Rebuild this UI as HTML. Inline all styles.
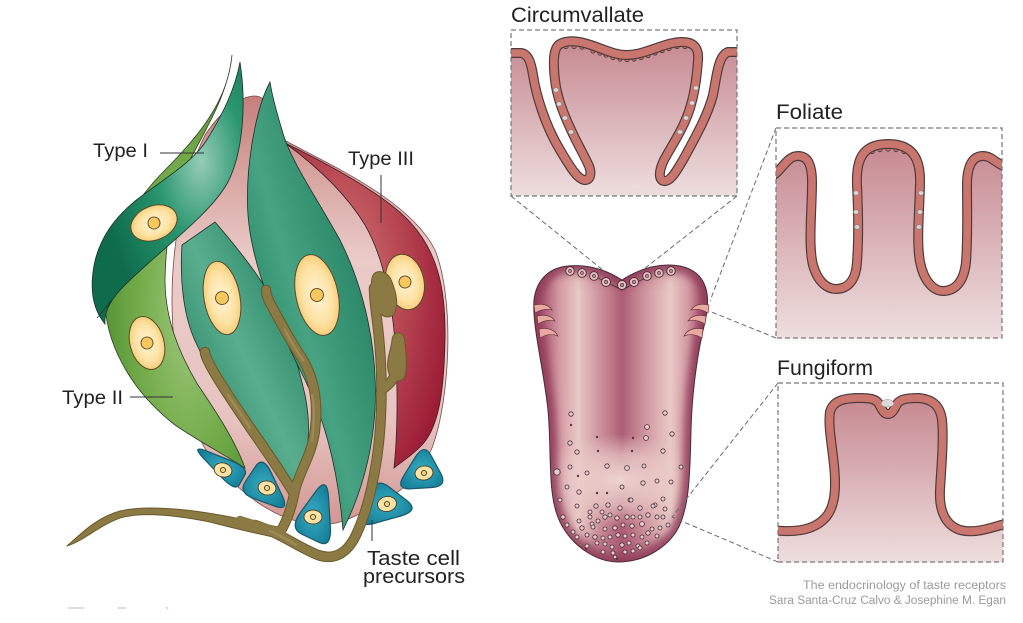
<!DOCTYPE html>
<html><head><meta charset="utf-8"><style>
html,body{margin:0;padding:0;background:#fff;}
svg{display:block;}
text{font-family:"Liberation Sans",sans-serif;}
</style></head><body>
<svg width="1023" height="623" viewBox="0 0 1023 623" xmlns="http://www.w3.org/2000/svg">
<defs>
 <linearGradient id="tis1" x1="0" y1="38" x2="0" y2="196" gradientUnits="userSpaceOnUse"><stop offset="0" stop-color="#c5878f"/><stop offset="1" stop-color="#eedede"/></linearGradient>
 <linearGradient id="tis2" x1="0" y1="140" x2="0" y2="338" gradientUnits="userSpaceOnUse"><stop offset="0" stop-color="#c5878f"/><stop offset="1" stop-color="#eedede"/></linearGradient>
 <linearGradient id="tis3" x1="0" y1="395" x2="0" y2="562" gradientUnits="userSpaceOnUse"><stop offset="0" stop-color="#c5878f"/><stop offset="1" stop-color="#eedede"/></linearGradient>
 <linearGradient id="tg" x1="533" y1="0" x2="709" y2="0" gradientUnits="userSpaceOnUse">
  <stop offset="0" stop-color="#984462"/><stop offset="0.07" stop-color="#b0627a"/><stop offset="0.15" stop-color="#d39aa3"/>
  <stop offset="0.256" stop-color="#e9c9c6"/><stop offset="0.37" stop-color="#d097a0"/><stop offset="0.506" stop-color="#ad5d74"/>
  <stop offset="0.64" stop-color="#d097a0"/><stop offset="0.78" stop-color="#e9c9c6"/><stop offset="0.88" stop-color="#d39aa3"/>
  <stop offset="0.95" stop-color="#b0627a"/><stop offset="1" stop-color="#984462"/></linearGradient>
 <radialGradient id="tlight" cx="0.5" cy="0.5" r="0.5"><stop offset="0" stop-color="#eed4d0" stop-opacity="1"/><stop offset="0.55" stop-color="#ebcdca" stop-opacity="0.7"/><stop offset="1" stop-color="#ebcdca" stop-opacity="0"/></radialGradient>
 <clipPath id="tclip"><path d="M 622 280 C 608 271 590 264 568 266 C 546 268 536 283 534 300 C 532 325 543 365 548 410 C 552 455 547 495 560 522 C 573 548 598 562 618 562 C 642 562 664 550 676 532 C 690 510 690 470 691 430 C 692 390 698 350 705 322 C 711 296 708 272 680 266 C 656 262 636 271 622 280 Z"/></clipPath>
 <filter id="blur4" x="-20%" y="-20%" width="140%" height="140%"><feGaussianBlur stdDeviation="4"/></filter>
 <filter id="blur8" x="-30%" y="-30%" width="160%" height="160%"><feGaussianBlur stdDeviation="8"/></filter>
 <clipPath id="b1"><rect x="511" y="30" width="226" height="166"/></clipPath>
 <clipPath id="b2"><rect x="776" y="128" width="226" height="210"/></clipPath>
 <clipPath id="b3"><rect x="778" y="383" width="225" height="179"/></clipPath>

 <linearGradient id="pink" x1="0" y1="96" x2="0" y2="525" gradientUnits="userSpaceOnUse">
  <stop offset="0" stop-color="#c57f7b"/><stop offset="0.17" stop-color="#d6a29e"/><stop offset="0.38" stop-color="#eacbc8"/>
  <stop offset="0.75" stop-color="#e8c4c1"/><stop offset="1" stop-color="#d29794"/></linearGradient>
 <radialGradient id="red" cx="0.35" cy="0.45" r="0.7"><stop offset="0" stop-color="#d18680"/><stop offset="0.45" stop-color="#bd5159"/><stop offset="1" stop-color="#9c1c36"/></radialGradient>
 <radialGradient id="lg" cx="0.6" cy="0.62" r="0.6"><stop offset="0" stop-color="#9fc97c"/><stop offset="0.6" stop-color="#73ab4a"/><stop offset="1" stop-color="#579536"/></radialGradient>
 <linearGradient id="dgB" x1="0" y1="1" x2="1" y2="0"><stop offset="0" stop-color="#0e6f4f"/><stop offset="0.5" stop-color="#5aae8f"/><stop offset="1" stop-color="#0f7150"/></linearGradient>
 <linearGradient id="dgC" x1="0" y1="1" x2="1" y2="0"><stop offset="0" stop-color="#0e6f4f"/><stop offset="0.45" stop-color="#47a382"/><stop offset="1" stop-color="#0d6c4d"/></linearGradient>
 <radialGradient id="dgI" cx="0.72" cy="0.38" r="0.65"><stop offset="0" stop-color="#95cdb6"/><stop offset="0.45" stop-color="#2a9670"/><stop offset="1" stop-color="#0e6c4c"/></radialGradient>
 <radialGradient id="nuc" cx="0.5" cy="0.5" r="0.5"><stop offset="0" stop-color="#fff4d8"/><stop offset="0.7" stop-color="#fde2a2"/><stop offset="1" stop-color="#f7cf7e"/></radialGradient>
 <radialGradient id="teal" cx="0.5" cy="0.5" r="0.6"><stop offset="0" stop-color="#38abc1"/><stop offset="1" stop-color="#137e97"/></radialGradient>
</defs>

<!-- ============ TASTE BUD ============ -->
<path d="M 205 135 C 222 110 240 96 255 96 C 268 96 276 115 284 140 C 330 165 410 200 435 250 C 455 300 450 400 432 448 C 420 475 400 495 375 505 C 350 520 330 530 300 522 C 270 515 245 495 220 470 C 190 435 172 370 172 300 C 172 240 185 175 205 135 Z" fill="url(#pink)" stroke="#7a4a48" stroke-width="0.8"/>
<path d="M 285 143 C 330 165 385 195 410 222 C 438 252 446 290 445 340 C 444 395 438 430 420 447 C 410 457 400 463 394 468 C 397 440 398 400 396 360 C 394 310 385 260 365 225 C 345 192 315 165 285 143 Z" fill="url(#red)" stroke="#3a2025" stroke-width="0.8"/>
<g transform="translate(405,282) rotate(-12)"><ellipse rx="19" ry="28" fill="url(#nuc)" stroke="#5b4a2a" stroke-width="1"/><circle r="6" fill="#f7c85e" stroke="#6a5530"/></g>
<path d="M 232 55 C 228 100 200 135 165 170 C 135 200 110 240 105 290 C 102 340 130 390 175 425 C 200 442 225 455 245 468 C 235 440 215 410 198 385 C 180 355 165 320 165 280 C 166 230 175 190 190 160 C 205 130 228 95 232 55 Z" fill="url(#lg)" stroke="#2e3b25" stroke-width="0.8"/>
<g transform="translate(147,343) rotate(-15)"><ellipse rx="17" ry="27" fill="url(#nuc)" stroke="#5b4a2a" stroke-width="1"/><circle r="6" fill="#f7c85e" stroke="#6a5530"/></g>
<path d="M 182 245 C 180 275 182 315 197 345 C 215 385 245 420 268 452 C 283 472 292 482 297 492 C 308 462 312 428 305 395 C 297 360 285 320 270 295 C 255 270 235 245 215 222 Z" fill="url(#dgB)" stroke="#1c3027" stroke-width="0.8"/>
<g transform="translate(222,298) rotate(-10)"><ellipse rx="18" ry="37" fill="url(#nuc)" stroke="#5b4a2a" stroke-width="1"/><circle r="6.5" fill="#f7c85e" stroke="#6a5530"/></g>
<path d="M 270 82 C 255 110 245 170 248 215 C 252 270 280 330 305 380 C 325 420 338 470 343 530 C 358 500 372 460 375 410 C 378 350 365 290 340 240 C 315 195 290 160 282 130 C 276 110 272 95 270 82 Z" fill="url(#dgC)" stroke="#1c3027" stroke-width="0.8"/>
<g transform="translate(317,295) rotate(-12)"><ellipse rx="21" ry="41" fill="url(#nuc)" stroke="#5b4a2a" stroke-width="1"/><circle r="6.5" fill="#f7c85e" stroke="#6a5530"/></g>
<path d="M 240 62 C 246 100 244 150 228 182 C 210 215 160 250 125 285 C 112 298 104 310 105 324 C 95 312 90 295 93 272 C 97 240 115 215 143 195 C 170 175 195 160 208 138 C 222 115 235 90 240 62 Z" fill="url(#dgI)" stroke="#1c3027" stroke-width="0.8"/>
<path d="M 97 318 L 112 300" stroke="#1c3027" stroke-width="0.7" fill="none"/>
<g transform="translate(154,223) rotate(-22)"><ellipse rx="24" ry="17" fill="url(#nuc)" stroke="#5b4a2a" stroke-width="1"/><circle r="6" fill="#f7c85e" stroke="#6a5530"/></g>

<!-- precursor cells -->
<g fill="url(#teal)" stroke="#175a6b" stroke-width="1.1">
 <path transform="translate(224,468) scale(1.13) translate(-224,-468)" d="M 209.6 453.3 L 230.4 461.7 Q 246 468 242.4 474.3 L 237.6 482.7 Q 234 489 222 476.4 L 206 459.6 Q 194 447 209.6 453.3 Z"/>
 <path transform="translate(264,487) scale(1.13) translate(-264,-487)" d="M 247.6 482.1 L 256.4 468.9 Q 263 459 270.2 474 L 279.8 494 Q 287 509 273.2 503.9 L 254.8 497.1 Q 241 492 247.6 482.1 Z"/>
 <path transform="translate(316,517) scale(1.12) translate(-316,-517)" d="M 302.2 512.9 L 315.8 494.1 Q 326 480 327.2 499.5 L 328.8 525.5 Q 330 545 318.6 539.6 L 303.4 532.4 Q 292 527 302.2 512.9 Z"/>
 <path transform="translate(384,505) scale(1.12) translate(-384,-505)" d="M 388.7 489 L 404.3 501 Q 416 510 398.9 514.8 L 376.1 521.2 Q 359 526 364.4 512.2 L 371.6 493.8 Q 377 480 388.7 489 Z"/>
 <path transform="translate(422,473) scale(1.12) translate(-422,-473)" d="M 430.3 457.7 L 438.7 473.3 Q 445 485 430.9 485.9 L 412.1 487.1 Q 398 488 405.8 475.4 L 416.2 458.6 Q 424 446 430.3 457.7 Z"/>
</g>
<g stroke="#4b3d22" stroke-width="0.9">
 <ellipse cx="223" cy="470" rx="9" ry="7" fill="#fde3a5" transform="rotate(15 223 470)"/><circle cx="223" cy="470" r="2.6" fill="#f7cf7e"/>
 <ellipse cx="267" cy="488" rx="9" ry="7" fill="#fde3a5" transform="rotate(10 267 488)"/><circle cx="267" cy="488" r="2.6" fill="#f7cf7e"/>
 <ellipse cx="313" cy="517" rx="9" ry="7" fill="#fde3a5"/><circle cx="313" cy="517" r="2.6" fill="#f7cf7e"/>
 <ellipse cx="387" cy="504" rx="9.5" ry="7.5" fill="#fde3a5" transform="rotate(-10 387 504)"/><circle cx="387" cy="504" r="2.6" fill="#f7cf7e"/>
 <ellipse cx="424" cy="473" rx="9" ry="7" fill="#fde3a5" transform="rotate(-10 424 473)"/><circle cx="424" cy="473" r="2.6" fill="#f7cf7e"/>
</g>

<!-- nerve fibers -->
<g fill="none" stroke-linecap="round" stroke-linejoin="round">
 <g stroke="#6a5a2c" stroke-width="10.5">
  <path d="M 255 525 C 280 533 298 547 318 555 C 335 561 348 552 356 535 C 368 510 377 470 380 430 C 383 390 381 350 377 320 C 375 305 374 295 374 288"/>
  <path d="M 279 534 C 288 520 292 505 295 490 C 300 470 312 455 315 430 C 318 405 315 380 303 360 C 290 340 278 318 270 303 C 267 297 266 293 266 290"/>
  <path d="M 293 492 C 280 470 262 445 245 420 C 230 398 218 380 210 365 C 207 359 205 355 205 352"/>
  <path d="M 381 390 C 388 386 394 380 397 370"/>
 </g>
 <path d="M 67 546 C 80 535 95 518 120 511 C 150 504 200 510 250 521 L 278 527 L 282 539 C 260 534 240 530 210 522 C 170 514 140 512 120 518 C 100 525 85 540 67 546 Z" fill="#8c7a44" stroke="#6a5a2c" stroke-width="1"/>
 <path d="M 372 278 C 374 268 388 270 392 282 C 396 292 399 305 394 314 C 388 320 380 316 376 308 C 372 300 370 290 372 278 Z" fill="#8c7a44" stroke="#6a5a2c" stroke-width="1"/>
 <path d="M 392 340 C 393 330 404 330 405 342 C 406 355 408 370 404 378 C 398 384 390 380 388 370 C 386 360 391 350 392 340 Z" fill="#8c7a44" stroke="#6a5a2c" stroke-width="1"/>
 <g stroke="#8c7a44" stroke-width="8.5">
  <path d="M 255 525 C 280 533 298 547 318 555 C 335 561 348 552 356 535 C 368 510 377 470 380 430 C 383 390 381 350 377 320 C 375 305 374 295 374 288"/>
  <path d="M 279 534 C 288 520 292 505 295 490 C 300 470 312 455 315 430 C 318 405 315 380 303 360 C 290 340 278 318 270 303 C 267 297 266 293 266 290"/>
  <path d="M 293 492 C 280 470 262 445 245 420 C 230 398 218 380 210 365 C 207 359 205 355 205 352"/>
  <path d="M 381 390 C 388 386 394 380 397 370"/>
  <path d="M 240 520 L 282 533"/>
 </g>
 <g stroke="#a9996a" stroke-width="2.5" opacity="0.55">
  <path d="M 303 360 C 296 350 290 340 285 330"/>
  <path d="M 312 440 C 314 425 315 410 312 395"/>
  <path d="M 250 428 C 242 416 235 405 228 395"/>
  <path d="M 270 531 C 280 535 288 540 296 545"/>
 </g>
</g>

<g stroke="#333" stroke-width="1">
 <line x1="160" y1="153" x2="204" y2="153"/>
 <line x1="381" y1="175" x2="381" y2="223"/>
 <line x1="130" y1="397" x2="173" y2="397"/>
 <line x1="372" y1="520" x2="372" y2="541"/>
</g>
<g fill="#222" font-size="19">
 <text x="93" y="157" textLength="55" lengthAdjust="spacingAndGlyphs">Type I</text>
 <text x="348" y="165" textLength="66" lengthAdjust="spacingAndGlyphs">Type III</text>
 <text x="62" y="404" textLength="61" lengthAdjust="spacingAndGlyphs">Type II</text>
 <text x="367" y="565" font-size="20.5" textLength="93" lengthAdjust="spacingAndGlyphs">Taste cell</text>
 <text x="363" y="583" font-size="20.5" textLength="102" lengthAdjust="spacingAndGlyphs">precursors</text>
</g>
<g stroke="#d4d4d4" stroke-width="1.5">
 <line x1="68" y1="608" x2="84" y2="608"/><line x1="118" y1="608" x2="126" y2="608"/><line x1="166" y1="607" x2="168" y2="609"/>
</g>

<!-- ============ TONGUE ============ -->
<path d="M 622 280 C 608 271 590 264 568 266 C 546 268 536 283 534 300 C 532 325 543 365 548 410 C 552 455 547 495 560 522 C 573 548 598 562 618 562 C 642 562 664 550 676 532 C 690 510 690 470 691 430 C 692 390 698 350 705 322 C 711 296 708 272 680 266 C 656 262 636 271 622 280 Z" fill="url(#tg)"/>
<g clip-path="url(#tclip)">
 <ellipse cx="620" cy="480" rx="82" ry="46" fill="url(#tlight)"/>
 <ellipse cx="620" cy="582" rx="95" ry="45" fill="#a65470" opacity="0.5" filter="url(#blur8)"/>
 <ellipse cx="622" cy="262" rx="60" ry="18" fill="#a65470" opacity="0.4" filter="url(#blur8)"/>
 <path d="M 622 280 C 608 271 590 264 568 266 C 546 268 536 283 534 300 C 532 325 543 365 548 410 C 552 455 547 495 560 522 C 573 548 598 562 618 562 C 642 562 664 550 676 532 C 690 510 690 470 691 430 C 692 390 698 350 705 322 C 711 296 708 272 680 266 C 656 262 636 271 622 280 Z" fill="none" stroke="#8e3a58" stroke-width="14" opacity="0.85" filter="url(#blur4)"/>
</g>
<path d="M 622 280 C 608 271 590 264 568 266 C 546 268 536 283 534 300 C 532 325 543 365 548 410 C 552 455 547 495 560 522 C 573 548 598 562 618 562 C 642 562 664 550 676 532 C 690 510 690 470 691 430 C 692 390 698 350 705 322 C 711 296 708 272 680 266 C 656 262 636 271 622 280 Z" fill="none" stroke="#4a2c38" stroke-width="1"/>
<g fill="#eaa9a0" stroke="#6a3a40" stroke-width="0.7">
 <path d="M 534 305 C 542 303 549 305 552 310 C 546 308 540 310 535 313 Z"/>
 <path d="M 537 316 C 545 314 552 316 555 321 C 549 319 543 321 538 324 Z"/>
 <path d="M 539 329 C 548 327 555 330 558 336 C 551 333 545 335 540 338 Z"/>
 <path d="M 709 305 C 701 303 694 305 691 310 C 697 308 703 310 708 313 Z"/>
 <path d="M 706 316 C 698 314 691 316 688 321 C 694 319 700 321 705 324 Z"/>
 <path d="M 703 329 C 694 327 687 330 684 336 C 691 333 697 335 702 338 Z"/>
</g>
<path d="M 596 277 L 622 290 L 647 277" fill="none" stroke="#4a2c38" stroke-width="0.8"/>
<g fill="#e4c2c2" stroke="#4a2c38" stroke-width="0.9">
 <circle cx="570" cy="271" r="4.3"/><circle cx="582" cy="273" r="4.3"/><circle cx="594" cy="276" r="4.3"/><circle cx="606" cy="282" r="4.5"/><circle cx="622" cy="285" r="4.5"/><circle cx="634" cy="282" r="4.5"/><circle cx="647" cy="276" r="4.3"/><circle cx="659" cy="273" r="4.3"/><circle cx="671" cy="271" r="4.3"/>
</g>
<g fill="#b98a8e" stroke="#4a2c38" stroke-width="0.6">
 <circle cx="570" cy="271" r="1.6"/><circle cx="582" cy="273" r="1.6"/><circle cx="594" cy="276" r="1.6"/><circle cx="606" cy="282" r="1.7"/><circle cx="622" cy="285" r="1.7"/><circle cx="634" cy="282" r="1.7"/><circle cx="647" cy="276" r="1.6"/><circle cx="659" cy="273" r="1.6"/><circle cx="671" cy="271" r="1.6"/>
</g>
<g fill="#e8cccb" stroke="#4a3038" stroke-width="0.8">
 <circle cx="571" cy="414" r="2.2"/><circle cx="665" cy="413" r="2.2"/><circle cx="647" cy="427" r="2.4"/><circle cx="672" cy="434" r="2.2"/><circle cx="646" cy="438" r="2.4"/><circle cx="570" cy="443" r="2.2"/><circle cx="577" cy="452" r="2.2"/><circle cx="663" cy="451" r="2.2"/><circle cx="557" cy="472" r="3.2"/><circle cx="570" cy="467" r="2"/><circle cx="587" cy="473" r="2"/><circle cx="607" cy="466" r="2.2"/><circle cx="627" cy="468" r="2.4"/><circle cx="644" cy="466" r="2"/><circle cx="681" cy="467" r="2"/><circle cx="567" cy="487" r="2"/><circle cx="579" cy="492" r="2.2"/><circle cx="622" cy="487" r="2"/><circle cx="643" cy="483" r="2.2"/><circle cx="657" cy="481" r="2"/><circle cx="671" cy="482" r="2"/><circle cx="560" cy="500" r="2"/><circle cx="577" cy="506" r="2"/><circle cx="596" cy="506" r="2.2"/><circle cx="608" cy="505" r="2.2"/><circle cx="630" cy="500" r="2"/><circle cx="640" cy="508" r="2.2"/><circle cx="655" cy="505" r="2"/><circle cx="663" cy="499" r="2"/><circle cx="665" cy="509" r="2"/>
 <circle cx="563" cy="517" r="2.2"/><circle cx="579" cy="521" r="2"/><circle cx="590" cy="517" r="2"/><circle cx="592" cy="524" r="2"/><circle cx="598" cy="521" r="2"/><circle cx="605" cy="517" r="2.2"/><circle cx="610" cy="515" r="2"/><circle cx="617" cy="518" r="2.2"/><circle cx="627" cy="517" r="2.2"/><circle cx="633" cy="517" r="2"/><circle cx="640" cy="517" r="2"/><circle cx="648" cy="515" r="2.2"/><circle cx="657" cy="517" r="2"/><circle cx="663" cy="517" r="2"/>
 <circle cx="567" cy="525" r="2"/><circle cx="573" cy="532" r="2"/><circle cx="582" cy="528" r="2.2"/><circle cx="593" cy="527" r="2"/><circle cx="605" cy="529" r="2"/><circle cx="615" cy="528" r="2.2"/><circle cx="623" cy="525" r="2"/><circle cx="632" cy="526" r="2.2"/><circle cx="642" cy="524" r="2.4"/><circle cx="652" cy="529" r="2"/><circle cx="660" cy="528" r="2"/><circle cx="668" cy="525" r="2"/>
 <circle cx="577" cy="537" r="2"/><circle cx="587" cy="535" r="2"/><circle cx="595" cy="537" r="2.2"/><circle cx="603" cy="538" r="2"/><circle cx="610" cy="537" r="2"/><circle cx="618" cy="535" r="2.2"/><circle cx="625" cy="536" r="2"/><circle cx="633" cy="535" r="2"/><circle cx="642" cy="537" r="2"/><circle cx="648" cy="533" r="2.2"/><circle cx="657" cy="536" r="2"/>
 <circle cx="587" cy="546" r="2"/><circle cx="597" cy="543" r="2"/><circle cx="605" cy="544" r="2"/><circle cx="612" cy="547" r="2"/><circle cx="622" cy="545" r="2.2"/><circle cx="629" cy="543" r="2"/><circle cx="638" cy="546" r="2"/><circle cx="647" cy="543" r="2"/>
 <circle cx="603" cy="552" r="2"/><circle cx="613" cy="553" r="2"/><circle cx="625" cy="552" r="2"/><circle cx="633" cy="551" r="2"/><circle cx="640" cy="548" r="2"/><circle cx="615" cy="557" r="1.8"/>
 <circle cx="590" cy="512" r="2"/><circle cx="602" cy="512" r="2"/><circle cx="620" cy="508" r="2.2"/><circle cx="631" cy="500" r="2"/><circle cx="653" cy="506" r="2"/>
</g>
<g fill="#5a3a44">
 <circle cx="571" cy="425" r="1.2"/><circle cx="597" cy="437" r="1.2"/><circle cx="633" cy="438" r="1.2"/><circle cx="598" cy="451" r="1.2"/><circle cx="632" cy="451" r="1.2"/><circle cx="578" cy="476" r="1.2"/><circle cx="597" cy="493" r="1.2"/><circle cx="607" cy="493" r="1.2"/><circle cx="586" cy="549" r="1.1"/><circle cx="617" cy="559" r="1.1"/>
</g>

<!-- ============ DASHED CONNECTORS ============ -->
<g stroke="#6a6a6a" stroke-width="1" stroke-dasharray="5 3" fill="none">
 <line x1="511" y1="196" x2="604" y2="271"/>
 <line x1="737" y1="196" x2="644" y2="269"/>
 <line x1="776" y1="128" x2="710" y2="301"/>
 <line x1="776" y1="338" x2="709" y2="311"/>
 <line x1="778" y1="383" x2="672" y2="517"/>
 <line x1="778" y1="562" x2="672" y2="517"/>
</g>

<!-- ============ CIRCUMVALLATE ============ -->
<g clip-path="url(#b1)">
 <rect x="511" y="30" width="226" height="166" fill="url(#tis1)"/>
 <path d="M 505 53 L 520 53 C 528 53 531 62 533 75 C 536 95 545 125 560 150 C 568 163 576 178 584 180 C 590 181 592 174 589 166 C 584 155 578 145 572 132 C 564 115 557 98 555 80 C 553 62 553 48 560 44 C 567 40 576 41 584 43 C 600 47 612 55 627 55 C 645 55 665 42 682 42 C 694 42 699 48 698 60 C 697 75 695 92 690 108 C 684 128 672 145 664 160 C 659 170 658 180 664 181 C 670 182 676 172 683 160 C 695 138 708 115 713 95 C 717 75 718 56 728 52 L 742 52 L 742 25 L 505 25 Z" fill="#fff"/>
 <g fill="#c9766e" stroke="#4f3b3b" stroke-width="0.8">
  <circle cx="566" cy="46.5" r="2.2"/><circle cx="574" cy="46.5" r="2.2"/><circle cx="582" cy="47" r="2.2"/><circle cx="593" cy="51" r="2.2"/><circle cx="600" cy="53" r="2.2"/><circle cx="606" cy="55" r="2.2"/><circle cx="613" cy="57.5" r="2.2"/><circle cx="620" cy="59" r="2.2"/><circle cx="627" cy="59.5" r="2.2"/><circle cx="634" cy="59" r="2.2"/><circle cx="641" cy="57.5" r="2.2"/><circle cx="648" cy="55.5" r="2.2"/><circle cx="655" cy="53" r="2.2"/><circle cx="662" cy="50.5" r="2.2"/><circle cx="669" cy="48.5" r="2.2"/><circle cx="677" cy="46.5" r="2.2"/><circle cx="685" cy="46.5" r="2.2"/>
 </g>
 <path d="M 505 53 L 520 53 C 528 53 531 62 533 75 C 536 95 545 125 560 150 C 568 163 576 178 584 180 C 590 181 592 174 589 166 C 584 155 578 145 572 132 C 564 115 557 98 555 80 C 553 62 553 48 560 44 C 567 40 576 41 584 43 C 600 47 612 55 627 55 C 645 55 665 42 682 42 C 694 42 699 48 698 60 C 697 75 695 92 690 108 C 684 128 672 145 664 160 C 659 170 658 180 664 181 C 670 182 676 172 683 160 C 695 138 708 115 713 95 C 717 75 718 56 728 52 L 742 52" fill="none" stroke="#4f3b3b" stroke-width="10"/>
 <path d="M 505 53 L 520 53 C 528 53 531 62 533 75 C 536 95 545 125 560 150 C 568 163 576 178 584 180 C 590 181 592 174 589 166 C 584 155 578 145 572 132 C 564 115 557 98 555 80 C 553 62 553 48 560 44 C 567 40 576 41 584 43 C 600 47 612 55 627 55 C 645 55 665 42 682 42 C 694 42 699 48 698 60 C 697 75 695 92 690 108 C 684 128 672 145 664 160 C 659 170 658 180 664 181 C 670 182 676 172 683 160 C 695 138 708 115 713 95 C 717 75 718 56 728 52 L 742 52" fill="none" stroke="#c9766e" stroke-width="7.6"/>
 <g fill="#dcd6d6" stroke="#777" stroke-width="0.5">
  <ellipse cx="556" cy="90" rx="2.6" ry="2.2"/><ellipse cx="559" cy="104" rx="2.6" ry="2.2"/><ellipse cx="565" cy="118" rx="2.6" ry="2.2"/><ellipse cx="571" cy="132" rx="2.6" ry="2.2"/>
  <ellipse cx="696" cy="88" rx="2.6" ry="2.2"/><ellipse cx="692" cy="103" rx="2.6" ry="2.2"/><ellipse cx="686" cy="118" rx="2.6" ry="2.2"/><ellipse cx="680" cy="132" rx="2.6" ry="2.2"/>
 </g>
</g>
<rect x="511" y="30" width="226" height="166" fill="none" stroke="#777" stroke-width="1.2" stroke-dasharray="5 3"/>

<!-- ============ FOLIATE ============ -->
<g clip-path="url(#b2)">
 <rect x="776" y="128" width="226" height="210" fill="url(#tis2)"/>
 <path d="M 770 177 C 782 172 786 156 798 156 C 808 156 812 165 812 182 C 812 210 808 245 813 265 C 818 283 828 289 836 289 C 848 289 856 280 857 262 C 859 235 858 205 857 185 C 856 160 862 144 888 144 C 912 144 920 158 920 180 C 920 205 916 240 920 262 C 924 282 934 291 943 291 C 955 291 964 282 966 262 C 968 235 967 205 967 185 C 967 165 973 156 983 156 C 992 156 996 164 1008 168 L 1008 120 L 770 120 Z" fill="#fff"/>
 <g fill="#c9766e" stroke="#4f3b3b" stroke-width="0.8">
  <circle cx="872" cy="151.5" r="2.2"/><circle cx="880" cy="149.5" r="2.2"/><circle cx="888" cy="149" r="2.2"/><circle cx="896" cy="149.5" r="2.2"/><circle cx="904" cy="151.5" r="2.2"/>
 </g>
 <path d="M 770 177 C 782 172 786 156 798 156 C 808 156 812 165 812 182 C 812 210 808 245 813 265 C 818 283 828 289 836 289 C 848 289 856 280 857 262 C 859 235 858 205 857 185 C 856 160 862 144 888 144 C 912 144 920 158 920 180 C 920 205 916 240 920 262 C 924 282 934 291 943 291 C 955 291 964 282 966 262 C 968 235 967 205 967 185 C 967 165 973 156 983 156 C 992 156 996 164 1008 168" fill="none" stroke="#4f3b3b" stroke-width="10"/>
 <path d="M 770 177 C 782 172 786 156 798 156 C 808 156 812 165 812 182 C 812 210 808 245 813 265 C 818 283 828 289 836 289 C 848 289 856 280 857 262 C 859 235 858 205 857 185 C 856 160 862 144 888 144 C 912 144 920 158 920 180 C 920 205 916 240 920 262 C 924 282 934 291 943 291 C 955 291 964 282 966 262 C 968 235 967 205 967 185 C 967 165 973 156 983 156 C 992 156 996 164 1008 168" fill="none" stroke="#c9766e" stroke-width="7.6"/>
 <g fill="#dcd6d6" stroke="#777" stroke-width="0.5">
  <ellipse cx="856" cy="193" rx="2.6" ry="2.2"/><ellipse cx="856" cy="212" rx="2.6" ry="2.2"/><ellipse cx="857" cy="227" rx="2.6" ry="2.2"/>
  <ellipse cx="921" cy="193" rx="2.6" ry="2.2"/><ellipse cx="920" cy="212" rx="2.6" ry="2.2"/><ellipse cx="919" cy="227" rx="2.6" ry="2.2"/>
 </g>
</g>
<rect x="776" y="128" width="226" height="210" fill="none" stroke="#777" stroke-width="1.2" stroke-dasharray="5 3"/>

<!-- ============ FUNGIFORM ============ -->
<g clip-path="url(#b3)">
 <rect x="778" y="383" width="225" height="179" fill="url(#tis3)"/>
 <path d="M 772 530 C 795 533 815 530 826 517 C 836 505 836 485 834 465 C 832 445 828 425 830 412 C 833 400 845 398 860 398 C 870 398 876 399 879 404 C 882 410 884 414 888 414 C 892 414 894 410 897 404 C 900 399 908 398 918 398 C 932 399 940 405 942 420 C 944 440 941 470 940 490 C 939 510 945 525 960 530 C 975 534 990 528 1008 523 L 1008 378 L 772 378 Z" fill="#fff"/>
 <path d="M 772 530 C 795 533 815 530 826 517 C 836 505 836 485 834 465 C 832 445 828 425 830 412 C 833 400 845 398 860 398 C 870 398 876 399 879 404 C 882 410 884 414 888 414 C 892 414 894 410 897 404 C 900 399 908 398 918 398 C 932 399 940 405 942 420 C 944 440 941 470 940 490 C 939 510 945 525 960 530 C 975 534 990 528 1008 523" fill="none" stroke="#4f3b3b" stroke-width="10"/>
 <path d="M 772 530 C 795 533 815 530 826 517 C 836 505 836 485 834 465 C 832 445 828 425 830 412 C 833 400 845 398 860 398 C 870 398 876 399 879 404 C 882 410 884 414 888 414 C 892 414 894 410 897 404 C 900 399 908 398 918 398 C 932 399 940 405 942 420 C 944 440 941 470 940 490 C 939 510 945 525 960 530 C 975 534 990 528 1008 523" fill="none" stroke="#c9766e" stroke-width="7.6"/>
 <path d="M 881 404 C 882 398 893 398 894 404 C 892 408 883 408 881 404 Z" fill="#dedada" stroke="#888" stroke-width="0.5"/>
</g>
<rect x="778" y="383" width="225" height="179" fill="none" stroke="#777" stroke-width="1.2" stroke-dasharray="5 3"/>

<g fill="#222" font-size="21">
 <text x="511" y="22" textLength="133" lengthAdjust="spacingAndGlyphs">Circumvallate</text>
 <text x="776" y="119" textLength="67" lengthAdjust="spacingAndGlyphs">Foliate</text>
 <text x="777" y="375" textLength="96" lengthAdjust="spacingAndGlyphs">Fungiform</text>
</g>
<g fill="#9a9a9a" font-size="11.5">
 <text x="803" y="589" textLength="203" lengthAdjust="spacingAndGlyphs">The endocrinology of taste receptors</text>
 <text x="769" y="604" textLength="237" lengthAdjust="spacingAndGlyphs">Sara Santa-Cruz Calvo &amp; Josephine M. Egan</text>
</g>
</svg>
</body></html>
